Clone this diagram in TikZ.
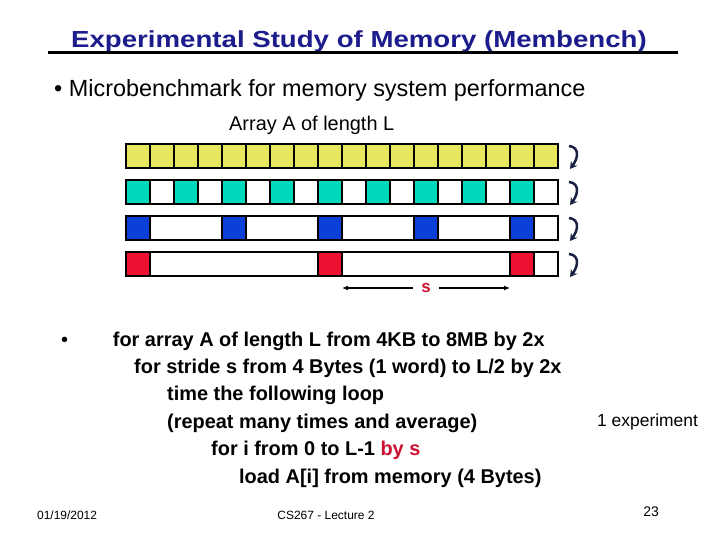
\documentclass[tikz,border=0pt]{standalone}
\usepackage{fontspec}
\usepackage{graphicx}
\usepackage{xcolor}
\usepackage{tikz}
\usetikzlibrary{arrows.meta}
\setmainfont{Liberation Sans}
\definecolor{titlenavy}{HTML}{1C1C8C}
\definecolor{cellyellow}{HTML}{E8E860}
\definecolor{cellteal}{HTML}{00D8BE}
\definecolor{cellblue}{HTML}{0B3FD8}
\definecolor{cellred}{HTML}{EE1030}
\definecolor{stridered}{HTML}{CC1133}
\definecolor{wrapnavy}{HTML}{1A2244}

\begin{document}
\begin{tikzpicture}[
    x=1bp, y=-1bp,
    cell/.style={draw=black, line width=2bp, fill=#1},
    plain/.style={anchor=base west, inner sep=0pt, font=\fontsize{#1}{#1}\selectfont},
    codeline/.style={anchor=base west, inner sep=0pt, font=\fontsize{20}{24}\selectfont\bfseries},
    wrap/.style={-{Stealth[length=7bp,width=8bp]}, line width=2.5bp, color=wrapnavy},
]
\fill[white] (0,0) rectangle (720,540);
\useasboundingbox (0,0) rectangle (720,540);

% title
\node[anchor=base, inner sep=0pt, text=titlenavy] (title) at (359,48)
    {\scalebox{1.19}[1]{\fontsize{23.3}{28}\selectfont\bfseries Experimental Study of Memory (Membench)}};
\coordinate (ruleL) at (48,53);
\coordinate (ruleR) at (678,53);
\draw[line width=3bp] (ruleL) -- (ruleR);

\node[plain=23.5] (intro) at (54,96.7) {\textbullet\ Microbenchmark for memory system performance};
\node[plain=20] (arraylbl) at (229,131) {Array A of length L};

% array rows
\foreach \i in {0,...,17} \draw[cell=cellyellow] (126+24*\i,144) rectangle ++(24,24);
\draw[cell=white] (126,180) rectangle (558,204);
\foreach \i in {0,2,...,16} \draw[cell=cellteal] (126+24*\i,180) rectangle ++(24,24);
\draw[cell=white] (126,216) rectangle (558,240);
\foreach \i in {0,4,...,16} \draw[cell=cellblue] (126+24*\i,216) rectangle ++(24,24);
\draw[cell=white] (126,252) rectangle (558,276);
\foreach \i in {0,8,16} \draw[cell=cellred] (126+24*\i,252) rectangle ++(24,24);

% wrap-around arrows
\foreach \y [count=\n] in {144,180,216,252} {
    \coordinate (wtop\n) at (569,\y+2);
    \coordinate (wbot\n) at (570,\y+25);
    \draw[wrap] (wtop\n) .. controls (579,\y+3) and (579,\y+13) .. (wbot\n);
}

% stride
\node[font=\fontsize{17}{20}\selectfont\bfseries, text=stridered, inner xsep=8bp, inner ysep=2bp] (stride) at (426,288) {s};
\coordinate (strideL) at (342,288);
\coordinate (strideR) at (510,288);
\draw[-{Latex[length=6bp,width=5bp]}, line width=1.6bp] (stride.west) -- (strideL);
\draw[-{Latex[length=6bp,width=5bp]}, line width=1.6bp] (stride.east) -- (strideR);

% loop nest
\node[plain=20] (bullet) at (61,346) {\textbullet};
\node[codeline] (loopA) at (112.7,346) {for array A of length L from 4KB to 8MB by 2x};
\node[codeline] (loopS) at (134,373.4) {for stride s from 4 Bytes (1 word) to L/2 by 2x};
\node[codeline] (timeit) at (167,400.8) {time the following loop};
\node[codeline] (repeat) at (167,428.2) {(repeat many times and average)};
\node[codeline] (loopI) at (211,455.6) {for i from 0 to L-1 \textcolor{stridered}{by s}};
\node[codeline] (load) at (239,483) {load A[i] from memory (4 Bytes)};
\node[plain=17.5] (oneexp) at (597,426) {1 experiment};

% footer
\node[plain=12] (date) at (37,519) {01/19/2012};
\node[anchor=base, inner sep=0pt, font=\fontsize{12}{14}\selectfont] (course) at (326,519) {CS267 - Lecture 2};
\node[anchor=base, inner sep=0pt, font=\fontsize{14}{16}\selectfont] (page) at (651,516) {23};
\end{tikzpicture}
\end{document}
